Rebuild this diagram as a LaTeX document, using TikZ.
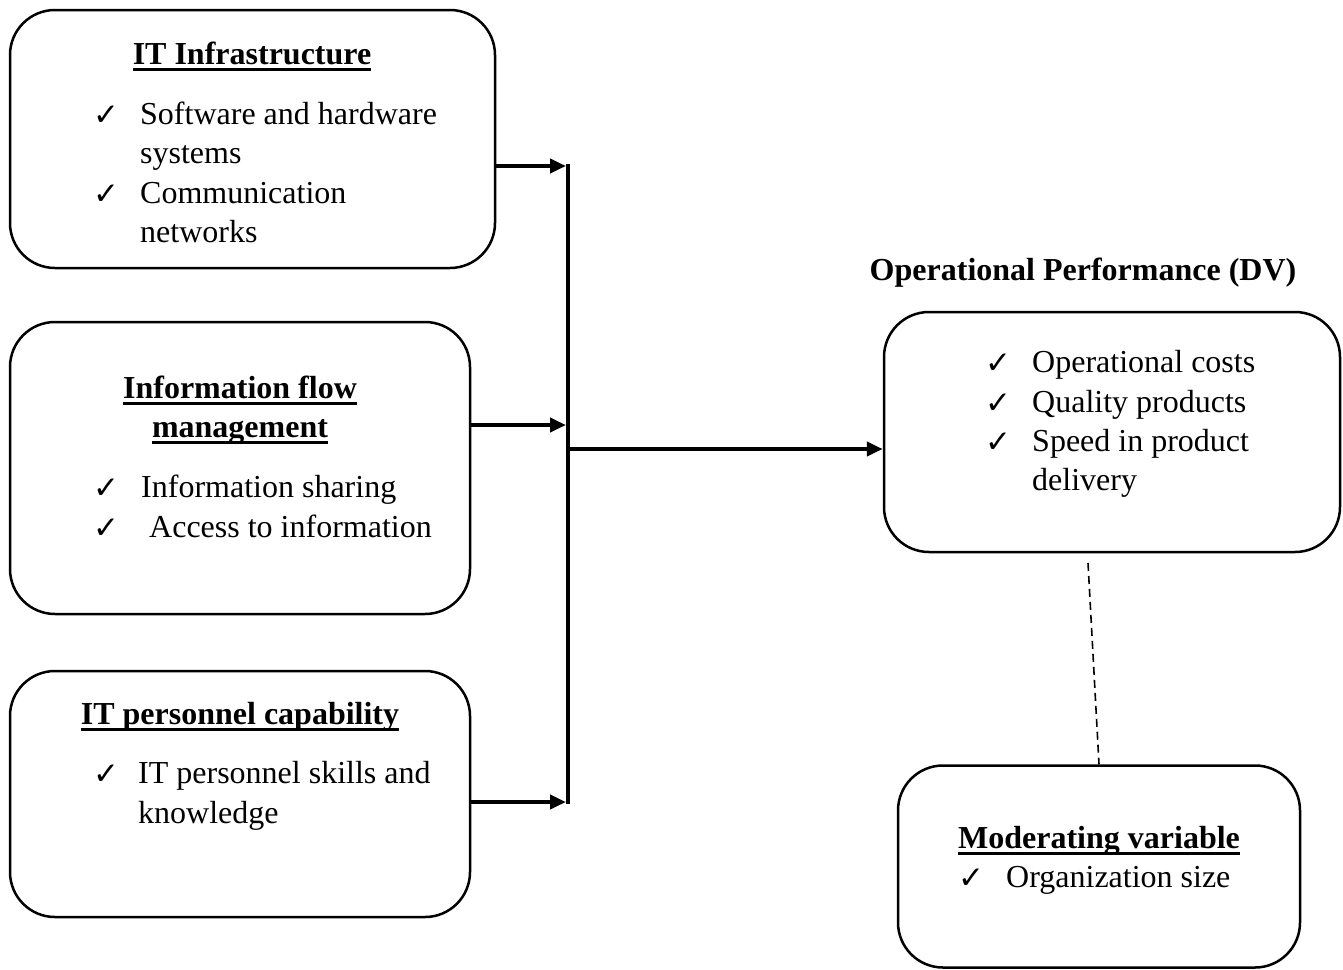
\documentclass[tikz,border=0pt]{standalone}
\usepackage{fontspec}
\setmainfont{Liberation Serif}
\newfontfamily\checkfont{DejaVu Sans}
\usetikzlibrary{arrows.meta}
% bold heading with a thick rule just under the baseline
\newcommand\ulhead[1]{\setbox0\hbox{\bfseries #1}\rlap{\rule[-0.22em]{\wd0}{0.09em}}\box0}
\begin{document}
\begin{tikzpicture}[x=1pt,y=-1pt,
  box/.style={draw, line width=2.5pt, rounded corners=45pt, inner sep=0pt, anchor=center},
  txt/.style={font=\fontsize{32}{40}\selectfont, inner sep=0pt, anchor=base west},
  head/.style={font=\fontsize{32}{40}\selectfont\bfseries, inner sep=0pt, anchor=base},
  tick/.style={font=\checkfont\bfseries\fontsize{31}{31}\selectfont, inner sep=0pt, anchor=base west},
  link/.style={line width=4.5pt},
  arr/.style={line width=4.5pt, -{Triangle[length=16pt,width=14pt]}},
  mod/.style={line width=1.6pt, dash pattern=on 8pt off 5pt}]
\useasboundingbox (0,0) rectangle (1343,969);

% boxes
\node[box, minimum width=485pt, minimum height=258pt] (b1) at (252.5,139) {};
\node[box, minimum width=460pt, minimum height=292pt] (b2) at (240,468) {};
\node[box, minimum width=460pt, minimum height=246pt] (b3) at (240,794) {};
\node[box, minimum width=456pt, minimum height=240pt] (b4) at (1112,432) {};
\node[box, minimum width=402pt, minimum height=202pt] (b5) at (1099,866.5) {};

% IT infrastructure
\node[head] (h1) at (252,64) {\ulhead{IT Infrastructure}};
\node[tick] (k1a) at (93,125) {✓};
\node[txt] (l1a) at (140,124) {Software and hardware};
\node[txt] (l1b) at (140,163) {systems};
\node[tick] (k1b) at (93,204) {✓};
\node[txt] (l1c) at (140,203) {Communication};
\node[txt] (l1d) at (140,242) {networks};

% information flow management
\node[head] (h2a) at (240,398) {\ulhead{Information flow}};
\node[head] (h2b) at (240,437) {\ulhead{management}};
\node[tick] (k2a) at (93,498) {✓};
\node[txt] (l2a) at (141,497) {Information sharing};
\node[tick] (k2b) at (93,538) {✓};
\node[txt] (l2b) at (149,537) {Access to information};

% IT personnel capability
\node[head] (h3) at (240,724) {\ulhead{IT personnel capability}};
\node[tick] (k3a) at (93,784) {✓};
\node[txt] (l3a) at (138,783) {IT personnel skills and};
\node[txt] (l3b) at (138,823) {knowledge};

% operational performance
\node[head] (h4) at (1083,280) {Operational Performance (DV)};
\node[tick] (k4a) at (985,373) {✓};
\node[txt] (l4a) at (1032,372) {Operational costs};
\node[tick] (k4b) at (985,413) {✓};
\node[txt] (l4b) at (1032,412) {Quality products};
\node[tick] (k4c) at (985,452) {✓};
\node[txt] (l4c) at (1032,451) {Speed in product};
\node[txt] (l4d) at (1032,490) {delivery};

% moderating variable
\node[head] (h5) at (1099,848) {\ulhead{Moderating variable}};
\node[tick] (k5a) at (958,888) {✓};
\node[txt] (l5a) at (1006,887) {Organization size};

% connectors
\coordinate (j1) at (566,166);
\coordinate (j2) at (566,425);
\coordinate (j3) at (566,802);
\coordinate (vt) at (568,164);
\coordinate (vb) at (568,804);
\coordinate (jo) at (568,449);
\coordinate (dtop) at (1088,563);

\draw[link] (vt) -- (vb);
\draw[arr] (b1.east |- j1) -- (j1);
\draw[arr] (b2.east |- j2) -- (j2);
\draw[arr] (b3.east |- j3) -- (j3);
\draw[arr] (jo) -- (b4.west |- jo);
\draw[mod] (dtop) -- (b5.north);
\end{tikzpicture}
\end{document}
